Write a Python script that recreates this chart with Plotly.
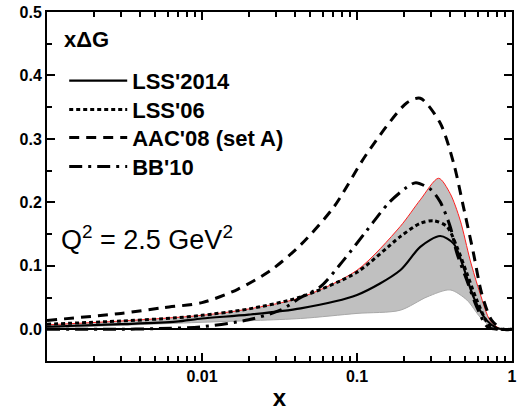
import plotly.graph_objects as go

# ---- data ----
x_lss14 = [0.001, 0.003, 0.0068, 0.01, 0.02, 0.0433, 0.1, 0.19, 0.256, 0.344, 0.42, 0.486, 0.564, 0.687, 0.8, 0.9, 1.0]
y_lss14 = [0.004, 0.008, 0.012, 0.017, 0.023, 0.033, 0.054, 0.093, 0.13, 0.147, 0.135, 0.098, 0.051, 0.014, 0.002, 0.0, 0.0]

x_up = [0.001, 0.003, 0.01, 0.02, 0.0433, 0.1, 0.19, 0.256, 0.336, 0.399, 0.463, 0.537, 0.623, 0.722, 0.85, 1.0]
y_up = [0.007, 0.013, 0.022, 0.032, 0.05, 0.093, 0.162, 0.204, 0.238, 0.214, 0.172, 0.109, 0.056, 0.014, 0.0, 0.0]

x_lo = [0.001, 0.01, 0.0433, 0.1, 0.19, 0.283, 0.399, 0.512, 0.623, 0.75, 0.85, 1.0]
y_lo = [0.002, 0.011, 0.017, 0.025, 0.03, 0.051, 0.062, 0.046, 0.019, 0.002, 0.0, 0.0]

x_lss06 = [0.001, 0.003, 0.0068, 0.01, 0.02, 0.0433, 0.1, 0.19, 0.256, 0.312, 0.38, 0.441, 0.512, 0.593, 0.72, 0.85, 1.0]
y_lss06 = [0.008, 0.013, 0.018, 0.022, 0.032, 0.051, 0.09, 0.146, 0.167, 0.171, 0.162, 0.13, 0.088, 0.046, 0.005, 0.0, 0.0]

x_aac = [0.001, 0.003, 0.0056, 0.01, 0.017, 0.0278, 0.0433, 0.071, 0.116, 0.21, 0.256, 0.344, 0.42, 0.486, 0.564, 0.638, 0.74, 0.875, 1.0]
y_aac = [0.014, 0.025, 0.034, 0.042, 0.063, 0.093, 0.133, 0.193, 0.277, 0.357, 0.364, 0.325, 0.262, 0.193, 0.12, 0.056, 0.014, 0.0, 0.0]

x_bb = [0.001, 0.003, 0.005, 0.01, 0.02, 0.032, 0.0433, 0.058, 0.082, 0.116, 0.16, 0.21, 0.24, 0.3, 0.344, 0.399, 0.441, 0.512, 0.593, 0.7, 0.85, 1.0]
y_bb = [0.0, 0.0, 0.001, 0.004, 0.015, 0.03, 0.05, 0.067, 0.109, 0.156, 0.199, 0.224, 0.231, 0.22, 0.201, 0.162, 0.12, 0.077, 0.035, 0.003, 0.0, 0.0]

series_names = ["LSS'2014", "LSS'06", "AAC'08 (set A)", "BB'10"]
x_tickvals = [0.01, 0.1, 1]
x_ticktext = ["0.01", "0.1", "1"]
y_tickvals = [0.0, 0.1, 0.2, 0.3, 0.4, 0.5]
y_ticktext = ["0.0", "0.1", "0.2", "0.3", "0.4", "0.5"]
x_minor = [m * 10 ** e for e in (-3, -2, -1) for m in range(2, 10)]
y_minor = [-0.05, 0.05, 0.15, 0.25, 0.35, 0.45]

FONT = "Liberation Sans, Arial, sans-serif"
sp = dict(shape="spline", smoothing=0.8)

fig = go.Figure()
# uncertainty band
fig.add_trace(go.Scatter(x=x_lo, y=y_lo, mode="lines", line=dict(color="#a8a8a8", width=1, **sp),
                         showlegend=False, hoverinfo="skip"))
fig.add_trace(go.Scatter(x=x_up, y=y_up, mode="lines", line=dict(color="#ff2020", width=1, **sp),
                         fill="tonexty", fillcolor="#c0c0c0", showlegend=False, hoverinfo="skip"))

fig.add_trace(go.Scatter(x=x_lss14, y=y_lss14, mode="lines", name=series_names[0], legend="legend",
                         line=dict(color="black", width=2.2, dash="solid", **sp)))
fig.add_trace(go.Scatter(x=x_lss06, y=y_lss06, mode="lines", name=series_names[1], legend="legend2",
                         line=dict(color="black", width=3, dash="4px,3px", **sp)))
fig.add_trace(go.Scatter(x=x_aac, y=y_aac, mode="lines", name=series_names[2], legend="legend3",
                         line=dict(color="black", width=3, dash="10px,7px", **sp)))
fig.add_trace(go.Scatter(x=x_bb, y=y_bb, mode="lines", name=series_names[3], legend="legend4",
                         line=dict(color="black", width=3, dash="13px,6px,3px,6px", **sp)))

axis_common = dict(showline=True, linecolor="black", linewidth=2, mirror="ticks",
                   ticks="inside", ticklen=8, tickwidth=2, tickcolor="black",
                   showgrid=False, automargin=False,
                   tickfont=dict(family=FONT, size=16, color="black", weight="bold"))

fig.update_xaxes(type="log", range=[-3, 0], tickvals=x_tickvals, ticktext=x_ticktext,
                 minor=dict(tickvals=x_minor, ticks="inside", ticklen=5, tickwidth=1.5, tickcolor="black"),
                 title=dict(text="<b>x</b>", font=dict(family=FONT, size=24, color="black"), standoff=6),
                 zeroline=False, **axis_common)
fig.update_yaxes(range=[-0.05, 0.5], tickvals=y_tickvals, ticktext=y_ticktext,
                 minor=dict(tickvals=y_minor, ticks="inside", ticklen=5, tickwidth=1.5, tickcolor="black"),
                 zeroline=True, zerolinecolor="black", zerolinewidth=2, **axis_common)

fig.add_annotation(x=0.033, y=0.92, xref="paper", yref="paper", xanchor="left", yanchor="middle",
                   text="<b>x\u0394G</b>", showarrow=False,
                   font=dict(family=FONT, size=22, color="black"))
fig.add_annotation(x=0.026, y=0.352, xref="paper", yref="paper", xanchor="left", yanchor="middle",
                   text="Q<sup>2</sup> = 2.5 GeV<sup>2</sup>", showarrow=False,
                   font=dict(family=FONT, size=27, color="black"))

leg_common = dict(x=0.037, xanchor="left", yanchor="middle", bgcolor="rgba(0,0,0,0)",
                  font=dict(family=FONT, size=22, color="black", weight="bold"), itemwidth=58)
fig.update_layout(
    width=531, height=411,
    margin=dict(l=47, r=19, t=12, b=50, autoexpand=False),
    paper_bgcolor="white", plot_bgcolor="white",
    showlegend=True,
    legend=dict(y=0.803, **leg_common),
    legend2=dict(y=0.720, **leg_common),
    legend3=dict(y=0.640, **leg_common),
    legend4=dict(y=0.557, **leg_common),
)

fig.write_html("out.html", config={"displayModeBar": False},
               post_script="document.body.style.margin='0px';")
